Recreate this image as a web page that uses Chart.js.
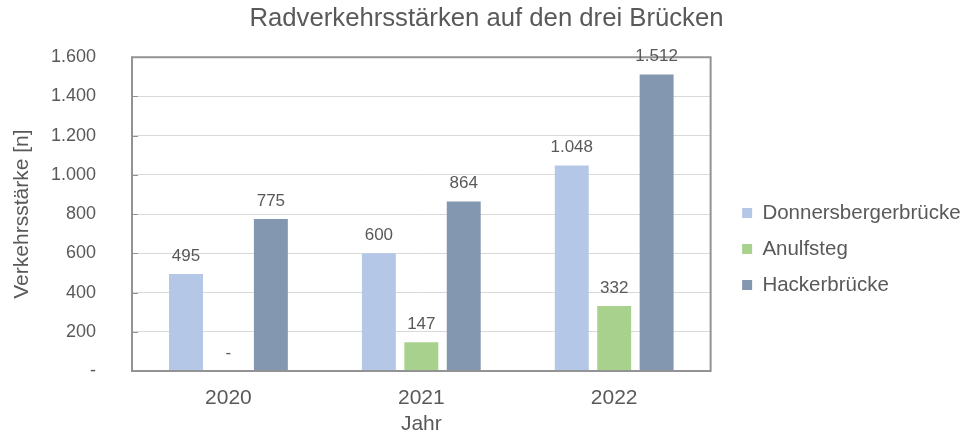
<!DOCTYPE html>
<html lang="de">
<head>
<meta charset="utf-8">
<title>Radverkehrsstärken auf den drei Brücken</title>
<script src="https://cdn.jsdelivr.net/npm/chart.js@4/dist/chart.umd.min.js"></script>
<style>
  html, body { margin: 0; padding: 0; background: #ffffff; }
  #wrap { width: 965px; height: 437px; position: relative; }
</style>
</head>
<body>
<div id="wrap"><canvas id="bridgeChart"></canvas></div>
<script>
  /* ===== Data ===== */
  var YEARS = ["2020", "2021", "2022"];
  var DONNERSBERGER = [495, 600, 1048];
  var ANULFSTEG = [0, 147, 332];
  var HACKER = [775, 864, 1512];
  var SERIES_NAMES = ["Donnersbergerbrücke", "Anulfsteg", "Hackerbrücke"];

  /* ===== Style ===== */
  var COLOR_DONNERS = "#b4c7e7";
  var COLOR_ANULF = "#a9d18e";
  var COLOR_HACKER = "#8497b0";
  var TEXT_COLOR = "#595959";
  var GRID_COLOR = "#d9d9d9";
  var FRAME_COLOR = "#939393";
  var FONT_FAMILY = "'Liberation Sans', Arial, sans-serif";

  function fmtDe(v) {
    if (v === 0) return "-";
    return String(v).replace(/\B(?=(\d{3})+(?!\d))/g, ".");
  }

  // nudge legend and title: legend padding doubles as row gap, title centred on the page
  var layoutTweaks = {
    id: "layoutTweaks",
    afterLayout: function (chart) {
      var lg = chart.legend;
      if (lg) {
        var dx = chart.chartArea.right + 16 - lg.left;
        lg.left += dx;
        lg.right += dx;
        lg.top += 30.5;
        lg.bottom += 30.5;
      }
      var tb = chart.titleBlock;
      if (tb) {
        var tx = 486.5 - (tb.left + tb.right) / 2;
        tb.left += tx;
        tb.right += tx;
      }
    }
  };

  // frame around the plot area plus the short inner ticks on the y axis
  var framePlugin = {
    id: "frame",
    afterDatasetsDraw: function (chart) {
      var a = chart.chartArea;
      var c = chart.ctx;
      var y = chart.scales.y;
      c.save();
      c.strokeStyle = FRAME_COLOR;
      c.lineWidth = 2;
      c.strokeRect(a.left, a.top, a.right - a.left, a.bottom - a.top);
      c.lineWidth = 1;
      y.ticks.forEach(function (t) {
        var py = Math.round(y.getPixelForValue(t.value)) + 0.5;
        c.beginPath();
        c.moveTo(a.left, py);
        c.lineTo(a.left + 6, py);
        c.stroke();
      });
      c.restore();
    }
  };

  // value labels above the bars
  var valueLabels = {
    id: "valueLabels",
    afterDatasetsDraw: function (chart) {
      var c = chart.ctx;
      c.save();
      c.fillStyle = TEXT_COLOR;
      c.font = "17px " + FONT_FAMILY;
      c.textAlign = "center";
      c.textBaseline = "middle";
      chart.data.datasets.forEach(function (ds, i) {
        var meta = chart.getDatasetMeta(i);
        meta.data.forEach(function (bar, j) {
          c.fillText(fmtDe(ds.data[j]), bar.x, bar.y - 18);
        });
      });
      c.restore();
    }
  };

  var ctx = document.getElementById("bridgeChart").getContext("2d");
  new Chart(ctx, {
    type: "bar",
    data: {
      labels: YEARS,
      datasets: [
        { label: SERIES_NAMES[0], data: DONNERSBERGER, backgroundColor: COLOR_DONNERS },
        { label: SERIES_NAMES[1], data: ANULFSTEG, backgroundColor: COLOR_ANULF },
        { label: SERIES_NAMES[2], data: HACKER, backgroundColor: COLOR_HACKER }
      ]
    },
    options: {
      responsive: true,
      maintainAspectRatio: false,
      animation: false,
      datasets: { bar: { categoryPercentage: 0.66, barPercentage: 0.8 } },
      layout: { padding: { left: 0, right: 17.5, top: 0, bottom: 0 } },
      plugins: {
        tooltip: { enabled: false },
        title: {
          display: true,
          text: "Radverkehrsstärken auf den drei Brücken",
          color: TEXT_COLOR,
          font: { family: FONT_FAMILY, size: 25.7, weight: "normal" },
          padding: { top: 3, bottom: 23.4 }
        },
        legend: {
          position: "right",
          labels: {
            color: TEXT_COLOR,
            boxWidth: 10,
            boxHeight: 10,
            padding: 15.5,
            font: { family: FONT_FAMILY, size: 20.5 }
          }
        }
      },
      scales: {
        x: {
          grid: { display: false, drawTicks: false },
          border: { display: false },
          ticks: { color: TEXT_COLOR, padding: 15, font: { family: FONT_FAMILY, size: 21 } },
          title: {
            display: true,
            text: "Jahr",
            color: TEXT_COLOR,
            font: { family: FONT_FAMILY, size: 21 },
            padding: { top: 0, bottom: 0 }
          },
          afterFit: function (s) { s.height = 66; }
        },
        y: {
          min: 0,
          max: 1600,
          ticks: {
            stepSize: 200,
            color: TEXT_COLOR,
            padding: 36,
            font: { family: FONT_FAMILY, size: 18 },
            callback: function (v) { return fmtDe(v); }
          },
          grid: { color: GRID_COLOR, drawTicks: false },
          border: { display: false },
          title: {
            display: true,
            text: "Verkehrsstärke [n]",
            color: TEXT_COLOR,
            font: { family: FONT_FAMILY, size: 21 },
            padding: { top: 10, bottom: 0 }
          },
          afterFit: function (s) { s.width = 132; }
        }
      }
    },
    plugins: [layoutTweaks, framePlugin, valueLabels]
  });
</script>
</body>
</html>
